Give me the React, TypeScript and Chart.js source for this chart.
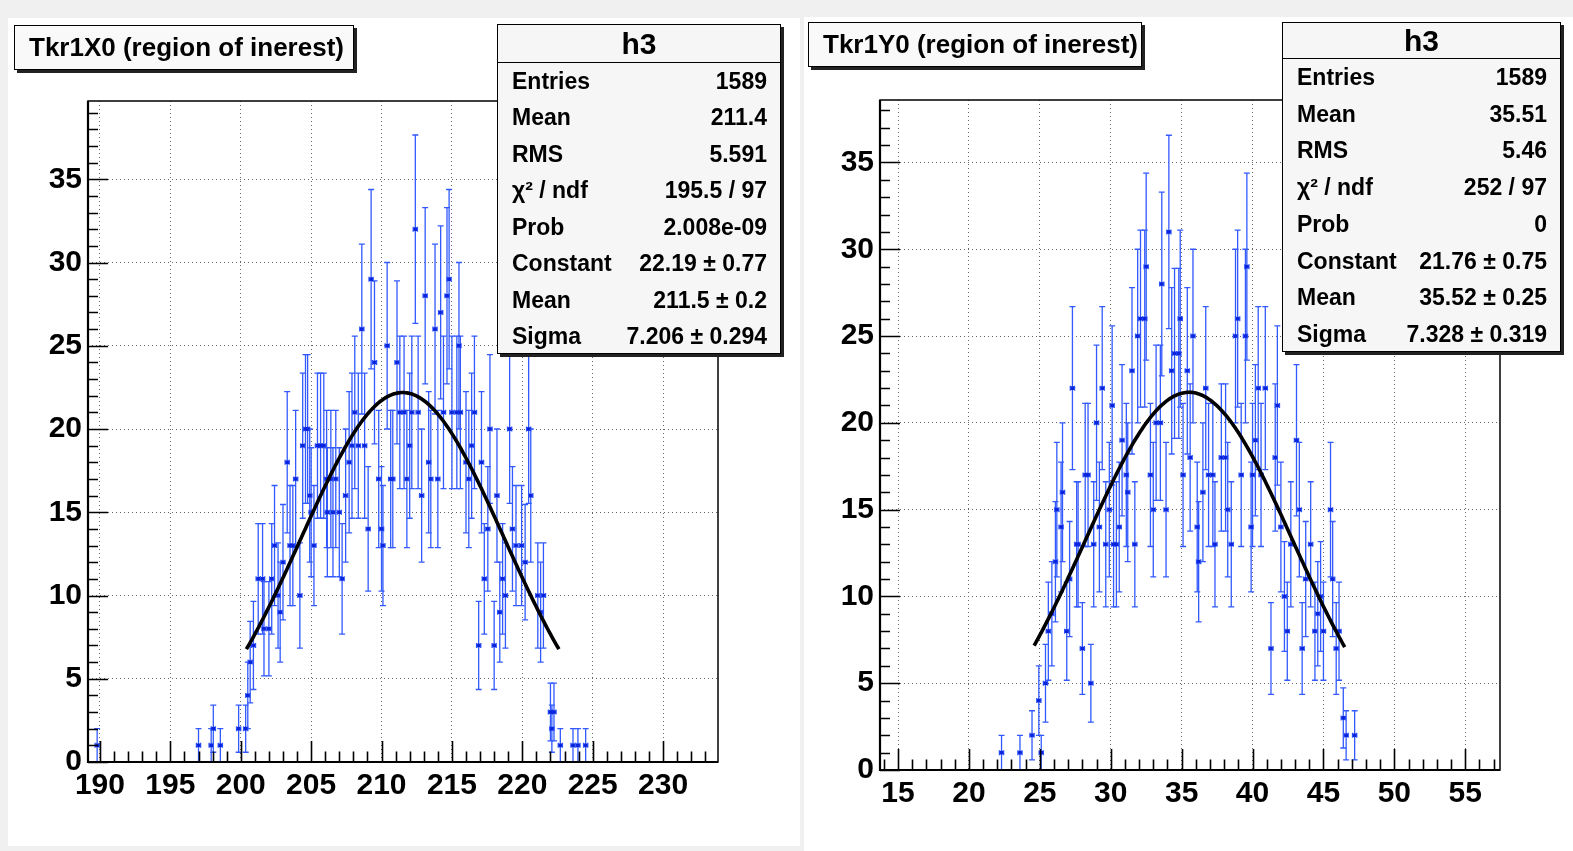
import React, { useEffect, useRef } from "react";
import { Chart, registerables } from "chart.js";

Chart.register(...registerables);

// ---------------- Left histogram: Tkr1X0 ----------------
const leftBinX = [
  189.8, 197.0, 197.9, 198.05, 198.55, 199.85, 200.35, 200.5, 200.67, 200.9,
  201.24, 201.55, 201.65, 202.0, 202.2, 202.4, 202.65, 202.8, 203.0, 203.3,
  203.5, 203.7, 203.9, 204.2, 204.4, 204.6, 204.75, 204.9, 205.0, 205.2,
  205.45, 205.67, 205.9, 206.1, 206.15, 206.4, 206.55, 206.75, 207.0, 207.2,
  207.45, 207.7, 207.9, 208.1, 208.35, 208.6, 208.8, 209.05, 209.26, 209.5,
  209.8, 210.0, 210.1, 210.4, 210.65, 210.8, 211.1, 211.3, 211.6, 211.8,
  212.0, 212.15, 212.4, 212.6, 212.85, 213.1, 213.35, 213.5, 213.8, 214.0,
  214.2, 214.4, 214.65, 214.8, 215.0, 215.35, 215.5, 215.6, 216.0, 216.2,
  216.4, 216.6, 216.9, 217.1, 217.3, 217.55, 217.7, 218.0, 218.2, 218.4,
  218.6, 218.8, 219.1, 219.3, 219.55, 219.95, 220.2, 220.45, 220.6, 221.1,
  221.3, 221.5, 222.0, 222.1, 222.25, 222.7, 223.6, 223.95, 224.5,
];
const leftCounts = [
  1, 1, 1, 2, 1, 2, 2, 4, 6, 7,
  11, 11, 8, 8, 11, 13, 10, 9, 12, 18,
  13, 13, 17, 10, 19, 20, 20, 16, 15, 13,
  19, 19, 19, 17, 15, 17, 15, 17, 15, 11,
  16, 18, 19, 21, 19, 26, 19, 14, 29, 24,
  17, 14, 13, 25, 17, 17, 24, 21, 21, 17,
  19, 21, 32, 21, 16, 28, 18, 17, 26, 17,
  27, 21, 28, 29, 21, 21, 25, 21, 18, 17,
  19, 21, 7, 18, 11, 14, 20, 7, 16, 9,
  11, 10, 20, 14, 13, 13, 12, 20, 16, 10,
  9, 10, 3, 2, 3, 1, 1, 1, 1,
];

// ---------------- Right histogram: Tkr1Y0 ----------------
const rightBinX = [
  22.3, 23.6, 24.45, 24.93, 25.1, 25.4, 25.6, 25.85, 26.1, 26.2,
  26.5, 26.6, 26.9, 27.1, 27.3, 27.6, 27.7, 28.0, 28.2, 28.4,
  28.6, 28.8, 29.0, 29.2, 29.4, 29.65, 29.9, 30.1, 30.2, 30.4,
  30.6, 30.8, 31.1, 31.2, 31.5, 31.7, 31.9, 32.1, 32.4, 32.5,
  32.8, 33.0, 33.2, 33.5, 33.6, 33.9, 34.1, 34.3, 34.5, 34.8,
  34.9, 35.1, 35.4, 35.6, 35.8, 36.1, 36.2, 36.5, 36.7, 36.9,
  37.2, 37.35, 37.8, 38.1, 38.25, 38.5, 38.8, 38.95, 39.2, 39.5,
  39.6, 39.9, 40.0, 40.2, 40.4, 40.6, 40.9, 41.3, 41.6, 41.75,
  42.0, 42.25, 42.45, 42.7, 43.1, 43.3, 43.5, 43.75, 44.1, 44.4,
  44.6, 44.8, 45.0, 45.5, 45.65, 45.9, 46.1, 46.4, 46.6, 47.2,
];
const rightCounts = [
  1, 1, 2, 4, 1, 5, 8, 9, 12, 15,
  14, 16, 8, 11, 22, 13, 13, 7, 17, 17,
  5, 13, 20, 14, 22, 13, 15, 21, 13, 13,
  14, 19, 17, 16, 23, 13, 25, 26, 26, 29,
  17, 15, 20, 20, 28, 15, 31, 23, 24, 24,
  26, 17, 23, 18, 25, 14, 12, 16, 22, 17,
  17, 13, 18, 18, 15, 13, 25, 26, 17, 25,
  29, 14, 17, 19, 22, 17, 22, 7, 18, 21,
  14, 10, 8, 13, 19, 15, 7, 11, 13, 8,
  9, 10, 8, 15, 11, 7, 8, 3, 2, 2,
];

// ---------------- Axis tick labels ----------------
const leftXTickLabels = [190, 195, 200, 205, 210, 215, 220, 225, 230];
const rightXTickLabels = [15, 20, 25, 30, 35, 40, 45, 50, 55];
const yTickLabels = [0, 5, 10, 15, 20, 25, 30, 35];

// ---------------- Gaussian fits (constant, mean, sigma) ----------------
const leftFitParams = [22.19, 211.5, 7.206];
const leftFitRange = [200.4, 222.6];
const rightFitParams = [21.76, 35.52, 7.328];
const rightFitRange = [24.6, 46.5];

// ---------------- Stats boxes ----------------
const leftStats = [
  ["Entries", "1589"],
  ["Mean", "211.4"],
  ["RMS", "5.591"],
  ["χ² / ndf", "195.5 / 97"],
  ["Prob", "2.008e-09"],
  ["Constant", "22.19 ± 0.77"],
  ["Mean", "211.5 ± 0.2"],
  ["Sigma", "7.206 ± 0.294"],
];
const rightStats = [
  ["Entries", "1589"],
  ["Mean", "35.51"],
  ["RMS", "5.46"],
  ["χ² / ndf", "252 / 97"],
  ["Prob", "0"],
  ["Constant", "21.76 ± 0.75"],
  ["Mean", "35.52 ± 0.25"],
  ["Sigma", "7.328 ± 0.319"],
];

const FONT = "'Liberation Sans', Arial, Helvetica, sans-serif";
const ERR_COLOR = "rgb(50, 90, 255)";
const MARK_COLOR = "rgb(10, 35, 220)";

function fitCurve(params: number[], range: number[]) {
  const [c, m, s] = params;
  const pts: { x: number; y: number }[] = [];
  for (let x = range[0]; x <= range[1] + 1e-9; x += 0.1) {
    pts.push({ x, y: c * Math.exp(-0.5 * ((x - m) / s) ** 2) });
  }
  return pts;
}

const rootPlugin = {
  id: "rootHist",
  beforeDatasetsDraw(chart: any) {
    const o = chart.options.plugins.rootHist;
    const { ctx, chartArea: a } = chart;
    const xs = chart.scales.x;
    const ys = chart.scales.y;
    ctx.save();
    ctx.beginPath();
    ctx.rect(a.left, a.top, a.right - a.left, a.bottom - a.top);
    ctx.clip();
    ctx.strokeStyle = ERR_COLOR;
    ctx.lineWidth = 1.3;
    o.xs.forEach((xv: number, i: number) => {
      const yv = o.ys[i];
      const e = Math.sqrt(yv);
      const px = xs.getPixelForValue(xv);
      const py = ys.getPixelForValue(yv);
      const pLo = ys.getPixelForValue(Math.max(0, yv - e));
      const pHi = ys.getPixelForValue(yv + e);
      const xl = xs.getPixelForValue(xv - o.xErr);
      const xr = xs.getPixelForValue(xv + o.xErr);
      ctx.beginPath();
      ctx.moveTo(px, pLo);
      ctx.lineTo(px, pHi);
      ctx.moveTo(px - 3, pHi);
      ctx.lineTo(px + 3, pHi);
      if (yv - e > 0) {
        ctx.moveTo(px - 3, pLo);
        ctx.lineTo(px + 3, pLo);
      }
      ctx.moveTo(xl, py);
      ctx.lineTo(xr, py);
      ctx.moveTo(xl, py - 2.5);
      ctx.lineTo(xl, py + 2.5);
      ctx.moveTo(xr, py - 2.5);
      ctx.lineTo(xr, py + 2.5);
      ctx.stroke();
    });
    ctx.restore();
  },
  afterDraw(chart: any) {
    const { ctx, chartArea: a } = chart;
    const xs = chart.scales.x;
    const ys = chart.scales.y;
    ctx.save();
    ctx.strokeStyle = "#000";
    ctx.lineWidth = 1.5;
    ctx.strokeRect(a.left, a.top, a.right - a.left, a.bottom - a.top);
    ctx.lineWidth = 2.2;
    ctx.beginPath();
    ctx.moveTo(a.left, a.top);
    ctx.lineTo(a.left, a.bottom);
    ctx.lineTo(a.right, a.bottom);
    ctx.stroke();
    ctx.lineWidth = 1.6;
    ctx.beginPath();
    for (let v = Math.ceil(xs.min); v <= xs.max; v++) {
      const px = Math.round(xs.getPixelForValue(v)) + 0.5;
      const len = v % 5 === 0 ? 21 : 10.5;
      ctx.moveTo(px, a.bottom);
      ctx.lineTo(px, a.bottom - len);
    }
    for (let v = Math.ceil(ys.min); v <= ys.max; v++) {
      const py = Math.round(ys.getPixelForValue(v)) + 0.5;
      const len = v % 5 === 0 ? 20 : 10;
      ctx.moveTo(a.left, py);
      ctx.lineTo(a.left + len, py);
    }
    ctx.stroke();
    ctx.restore();
  },
};

type PanelCfg = {
  width: number;
  height: number;
  xs: number[];
  ys: number[];
  xMin: number;
  xMax: number;
  yMax: number;
  xTicks: number[];
  yTicks: number[];
  fitParams: number[];
  fitRange: number[];
  pad: { top: number; right: number; bottom: number };
  yAxisWidth: number;
  xLabelPad: number;
};

function HistCanvas({ cfg, style }: { cfg: PanelCfg; style: React.CSSProperties }) {
  const ref = useRef<HTMLCanvasElement | null>(null);
  useEffect(() => {
    if (!ref.current) return;
    const tickFont = { family: FONT, weight: "bold" as const, size: 30 };
    const chart = new Chart(ref.current, {
      type: "scatter",
      data: {
        datasets: [
          {
            type: "line",
            data: fitCurve(cfg.fitParams, cfg.fitRange),
            borderColor: "#000",
            borderWidth: 3.6,
            pointRadius: 0,
            tension: 0,
            fill: false,
          } as any,
          {
            type: "scatter",
            data: cfg.xs.map((x, i) => ({ x, y: cfg.ys[i] })),
            pointStyle: "rect",
            pointRadius: 2.6,
            backgroundColor: MARK_COLOR,
            borderWidth: 0,
          },
        ],
      },
      options: {
        responsive: false,
        animation: false,
        events: [],
        layout: { padding: { left: 0, top: cfg.pad.top, right: cfg.pad.right, bottom: cfg.pad.bottom } },
        plugins: {
          legend: { display: false },
          tooltip: { enabled: false },
          rootHist: { xs: cfg.xs, ys: cfg.ys, xErr: 0.15 },
        } as any,
        scales: {
          x: {
            type: "linear",
            min: cfg.xMin,
            max: cfg.xMax,
            afterBuildTicks: (s: any) => {
              s.ticks = cfg.xTicks.map((v) => ({ value: v }));
            },
            afterFit: (s: any) => {
              s.height = 60;
              s.paddingLeft = 0;
              s.paddingRight = 0;
            },
            grid: { color: "#666", lineWidth: 1, drawTicks: false },
            border: { display: false, dash: [1, 3] },
            ticks: {
              padding: cfg.xLabelPad,
              color: "#000",
              font: tickFont,
              maxRotation: 0,
              autoSkip: false,
              callback: (v: any) => String(v),
            },
          },
          y: {
            type: "linear",
            min: 0,
            max: cfg.yMax,
            afterBuildTicks: (s: any) => {
              s.ticks = cfg.yTicks.map((v) => ({ value: v }));
            },
            afterFit: (s: any) => {
              s.width = cfg.yAxisWidth;
              s.paddingTop = 0;
              s.paddingBottom = 0;
            },
            grid: { color: "#666", lineWidth: 1, drawTicks: false },
            border: { display: false, dash: [1, 3] },
            ticks: {
              padding: 6,
              color: "#000",
              font: tickFont,
              autoSkip: false,
              callback: (v: any) => String(v),
            },
          },
        },
      } as any,
      plugins: [rootPlugin as any],
    });
    return () => chart.destroy();
  }, []);
  return <canvas ref={ref} width={cfg.width} height={cfg.height} style={{ position: "absolute", ...style }} />;
}

function TitleBox({ text, left, top, width, height }: { text: string; left: number; top: number; width: number; height: number }) {
  return (
    <div
      style={{
        position: "absolute",
        left,
        top,
        width,
        height,
        boxSizing: "border-box",
        border: "1.5px solid #000",
        boxShadow: "3px 3px 0 #222",
        background: "#f9f9f9",
        fontFamily: FONT,
        fontWeight: "bold",
        fontSize: 26,
        display: "flex",
        alignItems: "center",
        paddingLeft: 14,
        whiteSpace: "nowrap",
        zIndex: 3,
      }}
    >
      {text}
    </div>
  );
}

function StatsBox({ rows, left, top, width, height, header }: { rows: string[][]; left: number; top: number; width: number; height: number; header: number }) {
  const rowH = (height - header) / rows.length;
  return (
    <div
      style={{
        position: "absolute",
        left,
        top,
        width,
        height,
        boxSizing: "border-box",
        border: "1.5px solid #000",
        boxShadow: "3px 3px 0 #222",
        background: "#f6f6f6",
        fontFamily: FONT,
        fontWeight: "bold",
        zIndex: 3,
      }}
    >
      <div
        style={{
          height: header,
          boxSizing: "border-box",
          borderBottom: "1.5px solid #000",
          display: "flex",
          alignItems: "center",
          justifyContent: "center",
          fontSize: 30,
        }}
      >
        h3
      </div>
      {rows.map(([k, v], i) => (
        <div
          key={i}
          style={{
            height: rowH,
            display: "flex",
            alignItems: "center",
            justifyContent: "space-between",
            padding: "0 13px 0 14px",
            fontSize: 23,
          }}
        >
          <span>{k}</span>
          <span>{v}</span>
        </div>
      ))}
    </div>
  );
}

const leftCfg: PanelCfg = {
  width: 800,
  height: 851,
  xs: leftBinX,
  ys: leftCounts,
  xMin: 189.15,
  xMax: 233.9,
  yMax: 39.7,
  xTicks: leftXTickLabels,
  yTicks: yTickLabels,
  fitParams: leftFitParams,
  fitRange: leftFitRange,
  pad: { top: 101, right: 82, bottom: 29 },
  yAxisWidth: 88,
  xLabelPad: 6,
};

const rightCfg: PanelCfg = {
  width: 773,
  height: 851,
  xs: rightBinX,
  ys: rightCounts,
  xMin: 13.73,
  xMax: 57.45,
  yMax: 38.6,
  xTicks: rightXTickLabels,
  yTicks: yTickLabels,
  fitParams: rightFitParams,
  fitRange: rightFitRange,
  pad: { top: 100, right: 73, bottom: 21 },
  yAxisWidth: 80,
  xLabelPad: 6,
};

export default function App() {
  return (
    <div
      style={{
        position: "fixed",
        left: 0,
        top: 0,
        width: 1573,
        height: 851,
        background: "#f0f0f0",
        overflow: "hidden",
      }}
    >
      <div style={{ position: "absolute", left: 8, top: 18, width: 792, height: 828, background: "#fff" }} />
      <div style={{ position: "absolute", left: 804, top: 17, width: 769, height: 834, background: "#fff" }} />
      <HistCanvas cfg={leftCfg} style={{ left: 0, top: 0, zIndex: 1 }} />
      <HistCanvas cfg={rightCfg} style={{ left: 800, top: 0, zIndex: 1 }} />
      <TitleBox text="Tkr1X0 (region of inerest)" left={14} top={25} width={340} height={45} />
      <TitleBox text="Tkr1Y0 (region of inerest)" left={808} top={22} width={334} height={45} />
      <StatsBox rows={leftStats} left={497} top={24} width={284} height={330} header={38} />
      <StatsBox rows={rightStats} left={1282} top={22} width={279} height={330} header={36} />
    </div>
  );
}
